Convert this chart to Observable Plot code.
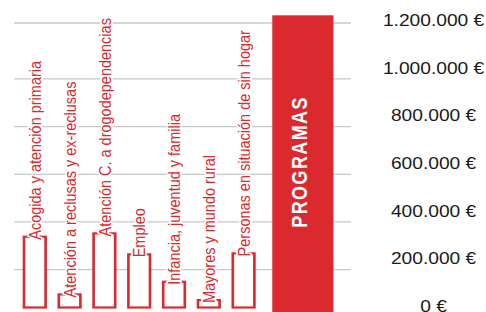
<!DOCTYPE html>
<html><head><meta charset="utf-8">
<script src="https://cdn.jsdelivr.net/npm/d3@7"></script>
<script src="https://cdn.jsdelivr.net/npm/@observablehq/plot@0.6"></script>
<style>html,body{margin:0;padding:0;background:#fff;overflow:hidden;}</style>
</head><body><div id="chart"></div>
<script>
const categories = [
  "Acogida y atención primaria",
  "Atención a reclusas y ex-reclusas",
  "Atención C. a drogodependencias",
  "Empleo",
  "Infancia, juventud y familia",
  "Mayores y mundo rural",
  "Personas en situación de sin hogar"
];
const values = [297000, 55000, 311000, 223000, 108000, 31000, 227000];
const totalLabel = "PROGRAMAS";
const totalValue = 1226000;
const yTicks = [0, 200000, 400000, 600000, 800000, 1000000, 1200000];

const red = "#db2a2f";
const small = categories.map((c, i) => ({category: c, value: values[i]}));
const total = [{category: totalLabel, value: totalValue}];
const fmt = d => d3.format(",")(d).replace(/,/g, ".") + " €";

const W = 405, H = 312;
const svg = Plot.plot({
  width: W, height: H,
  marginLeft: 11.7, marginRight: 112.5, marginTop: 21.5, marginBottom: 4.5,
  style: {fontFamily: "'Liberation Sans', Arial, sans-serif", background: "white"},
  x: {domain: [...categories, totalLabel], range: [18.5, 241.7], paddingInner: 0.39, paddingOuter: 0, axis: null},
  y: {domain: [0, 1200000], axis: null},
  marks: [
    Plot.ruleY(yTicks.filter(d => d > 0 && d < 1200000), {stroke: "#c8c8c8", strokeWidth: 1.3, dy: 9.3}),
    Plot.ruleY([1200000], {stroke: "#c8c8c8", strokeWidth: 1.3, dy: 1}),
    Plot.barY(small, {x: "category", y: "value", fill: "white", stroke: red, strokeWidth: 2.2}),
    Plot.barY(total, {x: "category", y: "value", fill: red, insetLeft: 3.9, insetRight: -36.9, insetBottom: -6}),
    Plot.text(small, {x: "category", y: "value", text: "category", rotate: -90, textAnchor: "start",
      dy: 2.5, fill: red, stroke: "white", strokeWidth: 3, fontSize: 14.5}),
    Plot.text(total, {x: "category", y: d => d.value / 2, text: "category", rotate: -90, textAnchor: "middle",
      dx: 17.5, fill: "white", fontWeight: "bold", fontSize: 18}),
    Plot.axisY({ticks: yTicks, anchor: "right", tickSize: 0, tickPadding: 0, dx: 68.3, dy: -1.2,
      textAnchor: "middle", tickFormat: fmt, fontSize: 16, fill: "#1a1a1a", label: null})
  ]
});
svg.querySelectorAll("text").forEach(t => {
  if (t.textContent === totalLabel) t.setAttribute("letter-spacing", "1.4");
});
svg.setAttribute("width", 486);
svg.setAttribute("height", 312);
svg.setAttribute("preserveAspectRatio", "none");
svg.style.width = "486px";
svg.style.height = "312px";
svg.style.maxWidth = "none";
document.getElementById("chart").appendChild(svg);
</script>
</body></html>
